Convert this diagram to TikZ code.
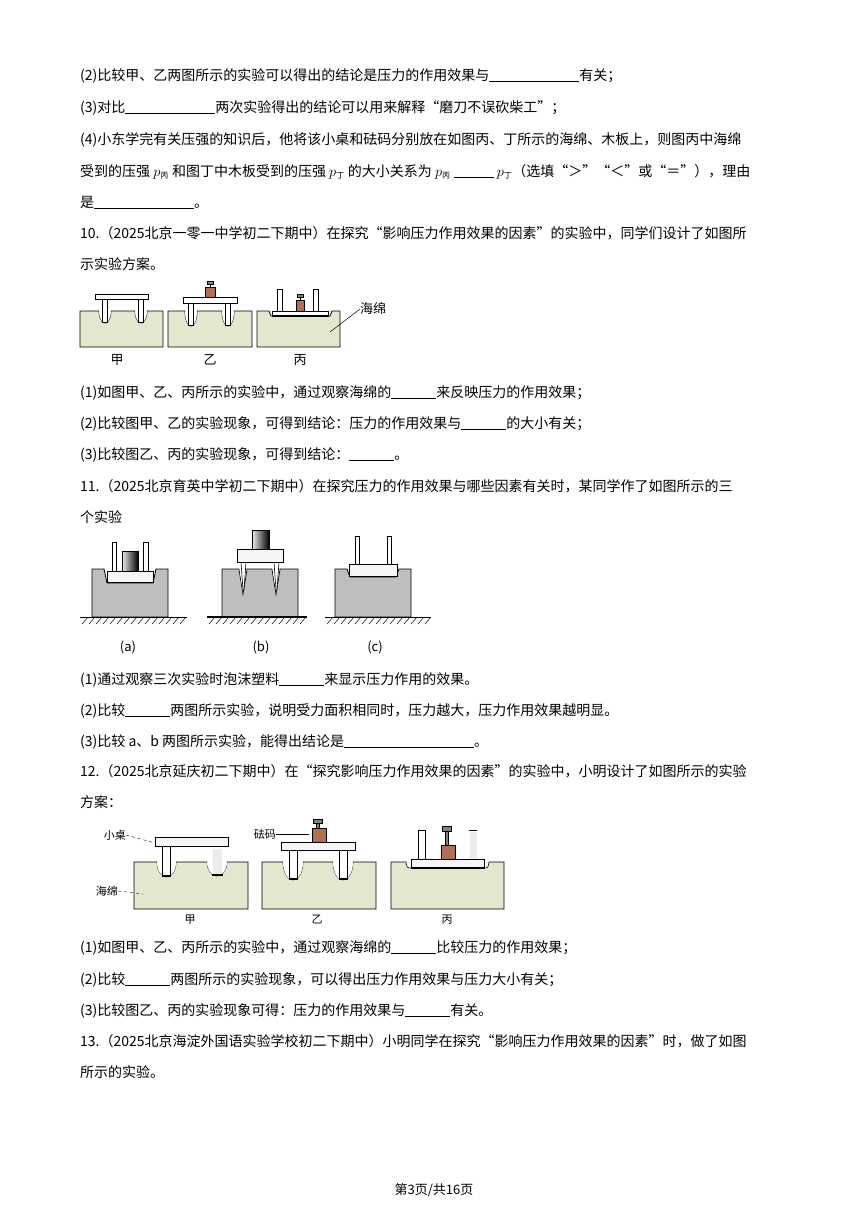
\documentclass[tikz,border=0pt]{standalone}
\usepackage{fontspec}
\setmainfont{Noto Sans CJK SC}
\usetikzlibrary{positioning}
\definecolor{spongegreen}{HTML}{E3E7CD}
\definecolor{spongegray}{HTML}{BEBEBE}
\definecolor{weightbrown}{HTML}{B06E55}
\newcommand\blank[1]{\rule[-2pt]{#1pt}{0.6pt}}
\newcommand\psub[1]{$p_{\mbox{\fontsize{8}{8}\selectfont #1}}$}
\tikzset{
  line/.style={anchor=base west, inner sep=0pt, font=\fontsize{14}{14}\selectfont},
  figlabel/.style={inner sep=0pt, font=\fontsize{13}{13}\selectfont},
  sponge/.style={draw=black, line width=0.8pt},
  plate/.style={draw=black, fill=white, line width=0.6pt},
}
\begin{document}
\begin{tikzpicture}[x=1pt, y=-1pt]
\useasboundingbox (0,0) rectangle (868,1227);

% text of question 9
\node[line] (t1) at (80,80) {(2)比较甲、乙两图所示的实验可以得出的结论是压力的作用效果与\blank{90}有关；};
\node[line] (t2) at (80,112) {(3)对比\blank{90}两次实验得出的结论可以用来解释“磨刀不误砍柴工”；};
\node[line] (t3) at (80,144) {(4)小东学完有关压强的知识后，他将该小桌和砝码分别放在如图丙、丁所示的海绵、木板上，则图丙中海绵};
\node[line] (t4) at (80,176) {受到的压强 \psub{丙} 和图丁中木板受到的压强 \psub{丁} 的大小关系为 \psub{丙} \blank{40} \psub{丁}（选填“＞”“＜”或“＝”），理由};
\node[line] (t5) at (80,207) {是\blank{100}。};

% question 10
\node[line] (q10a) at (80,238) {10.（2025北京一零一中学初二下期中）在探究“影响压力作用效果的因素”的实验中，同学们设计了如图所};
\node[line] (q10b) at (80,269) {示实验方案。};

% fig 10 甲
\draw[sponge, fill=spongegreen] (80,311) -- (99,311) arc[start angle=180, end angle=0, x radius=6, y radius=12]
  -- (135,311) arc[start angle=180, end angle=0, x radius=6, y radius=12] -- (163,311) -- (163,347) -- (80,347) -- cycle;
\fill[white] (99,311) arc[start angle=180, end angle=0, x radius=6, y radius=12] -- cycle;
\fill[white] (135,311) arc[start angle=180, end angle=0, x radius=6, y radius=12] -- cycle;
\draw[plate] (102,298) rectangle (107,322);
\draw[plate] (138,298) rectangle (143,322);
\draw[plate] (95,294) rectangle (148,299);
\node[figlabel] (l10a) at (117,360) {甲};

% fig 10 乙
\draw[sponge, fill=spongegreen] (168,311) -- (185,311) arc[start angle=180, end angle=0, x radius=6, y radius=15]
  -- (222,311) arc[start angle=180, end angle=0, x radius=6, y radius=15] -- (252,311) -- (252,347) -- (168,347) -- cycle;
\fill[white] (185,311) arc[start angle=180, end angle=0, x radius=6, y radius=15] -- cycle;
\fill[white] (222,311) arc[start angle=180, end angle=0, x radius=6, y radius=15] -- cycle;
\draw[plate] (188,303) rectangle (193,325);
\draw[plate] (225,303) rectangle (230,325);
\draw[plate] (183,297) rectangle (237,303);
\draw[fill=weightbrown, line width=0.5pt] (205,287) rectangle (215,297);
\draw[fill=gray, line width=0.5pt] (207,281) rectangle (213,284);
\draw[line width=0.5pt] (210,284) -- (210,287);
\node[figlabel] (l10b) at (210,360) {乙};

% fig 10 丙
\draw[sponge, fill=spongegreen] (257,311) -- (269,311) -- (271,316) -- (330,316) -- (332,311) -- (340,311) -- (340,347) -- (257,347) -- cycle;
\draw[plate] (277,289) rectangle (282,311);
\draw[plate] (313,289) rectangle (318,311);
\draw[plate] (272,311) rectangle (328,316);
\draw[line width=1.2pt] (272,316) -- (328,316);
\draw[fill=weightbrown, line width=0.5pt] (296,300) rectangle (304,311);
\draw[fill=gray, line width=0.5pt] (297,294) rectangle (303,297);
\draw[line width=0.5pt] (300,297) -- (300,300);
\node[figlabel] (l10c) at (300,360) {丙};
\node[figlabel, anchor=west] (hm10) at (360,309) {海绵};
\coordinate (hm10p) at (330,332);
\draw[line width=0.5pt] (hm10.west) -- (hm10p);

\node[line] (q10c) at (80,397) {(1)如图甲、乙、丙所示的实验中，通过观察海绵的\blank{45}来反映压力的作用效果；};
\node[line] (q10d) at (80,428) {(2)比较图甲、乙的实验现象，可得到结论：压力的作用效果与\blank{45}的大小有关；};
\node[line] (q10e) at (80,459) {(3)比较图乙、丙的实验现象，可得到结论：\blank{45}。};

% question 11
\node[line] (q11a) at (80,491) {11.（2025北京育英中学初二下期中）在探究压力的作用效果与哪些因素有关时，某同学作了如图所示的三};
\node[line] (q11b) at (80,522) {个实验};

% fig 11 (a)
\draw[sponge, fill=spongegray] (92,569) -- (104,569) -- (107,583) -- (153,583) -- (156,569) -- (168,569) -- (168,617) -- (92,617) -- cycle;
\draw[plate] (112,542) rectangle (116,571);
\draw[plate] (143,542) rectangle (148,571);
\draw[left color=gray!15, right color=black, line width=0.5pt] (122,551) rectangle (138,571);
\draw[plate, fill=gray!8] (107,571) rectangle (153,582);
\draw[line width=0.8pt] (80,617) -- (187,617);
\foreach \i in {82,89,...,182} \draw[line width=0.5pt] (\i+6,617) -- (\i,624);
\node[figlabel] (la) at (128,647) {(a)};

% fig 11 (b)
\draw[sponge, fill=spongegray] (222,569) -- (239,569) -- (243,594) -- (247,569) -- (272,569) -- (276,594) -- (280,569) -- (298,569) -- (298,617) -- (222,617) -- cycle;
\draw[fill=white, draw=none] (239.5,569.5) -- (243,592) -- (246.5,569.5) -- cycle;
\draw[fill=white, draw=none] (272.5,569.5) -- (276,592) -- (279.5,569.5) -- cycle;
\draw[plate] (241,562) -- (246,562) -- (244,590) -- (243,590) -- cycle;
\draw[plate] (274,562) -- (279,562) -- (277,590) -- (276,590) -- cycle;
\draw[plate, fill=gray!8] (237,549) rectangle (283,562);
\draw[left color=gray!15, right color=black, line width=0.5pt] (252,530) rectangle (269,549);
\draw[line width=1.4pt] (207,617) -- (307,617);
\foreach \i in {209,216,...,302} \draw[line width=0.5pt] (\i+6,617) -- (\i,624);
\node[figlabel] (lb) at (261,647) {(b)};

% fig 11 (c)
\draw[sponge, fill=spongegray] (335,569) -- (347,569) -- (350,577) -- (396,577) -- (399,569) -- (411,569) -- (411,617) -- (335,617) -- cycle;
\draw[plate] (355,536) rectangle (359,564);
\draw[plate] (387,536) rectangle (391,564);
\draw[plate, fill=gray!8] (349,564) rectangle (397,576);
\draw[line width=0.8pt] (325,617) -- (430,617);
\foreach \i in {327,334,...,425} \draw[line width=0.5pt] (\i+6,617) -- (\i,624);
\node[figlabel] (lc) at (375,647) {(c)};

\node[line] (q11c) at (80,684) {(1)通过观察三次实验时泡沫塑料\blank{45}来显示压力作用的效果。};
\node[line] (q11d) at (80,715) {(2)比较\blank{45}两图所示实验，说明受力面积相同时，压力越大，压力作用效果越明显。};
\node[line] (q11e) at (80,746) {(3)比较 a、b 两图所示实验，能得出结论是\blank{130}。};

% question 12
\node[line] (q12a) at (80,776) {12.（2025北京延庆初二下期中）在“探究影响压力作用效果的因素”的实验中，小明设计了如图所示的实验};
\node[line] (q12b) at (80,807) {方案：};

% fig 12 甲
\draw[sponge, fill=spongegreen, line width=0.6pt] (134,862) -- (157,862) arc[start angle=180, end angle=0, x radius=9.5, y radius=15]
  -- (207,862) arc[start angle=180, end angle=0, x radius=10, y radius=14] -- (248,862) -- (248,909) -- (134,909) -- cycle;
\fill[white] (157,862) arc[start angle=180, end angle=0, x radius=9.5, y radius=15] -- cycle;
\fill[white] (207,862) arc[start angle=180, end angle=0, x radius=10, y radius=14] -- cycle;
\draw[plate, line width=0.4pt] (162,846) rectangle (170,876);
\draw[line width=1.2pt] (162,876) -- (170,876);
\fill[gray!15] (213,849) rectangle (222,874);
\draw[line width=1.2pt] (212,875) -- (223,875);
\draw[plate, fill=gray!8] (155,837) rectangle (228,846);
\node[figlabel, font=\fontsize{11}{11}\selectfont] (l12a) at (190,920) {甲};
\node[figlabel, font=\fontsize{11}{11}\selectfont, anchor=east] (xz) at (126,835) {小桌};
\draw[dashed, line width=0.4pt] (xz.east) -- (155,843);
\node[figlabel, font=\fontsize{11}{11}\selectfont, anchor=east] (hm12) at (118,891) {海绵};
\draw[dashed, line width=0.4pt] (hm12.east) -- (143,894);

% fig 12 乙
\draw[sponge, fill=spongegreen, line width=0.6pt] (262,862) -- (283,862) arc[start angle=180, end angle=0, x radius=10, y radius=18]
  -- (333,862) arc[start angle=180, end angle=0, x radius=10, y radius=18] -- (376,862) -- (376,909) -- (262,909) -- cycle;
\fill[white] (283,862) arc[start angle=180, end angle=0, x radius=10, y radius=18] -- cycle;
\fill[white] (333,862) arc[start angle=180, end angle=0, x radius=10, y radius=18] -- cycle;
\draw[plate, line width=0.4pt] (289,850) rectangle (297,879);
\draw[line width=1.2pt] (289,879) -- (297,879);
\draw[plate, line width=0.4pt] (339,850) rectangle (347,879);
\draw[line width=1.2pt] (339,879) -- (347,879);
\draw[plate, fill=gray!8] (281,842) rectangle (355,850);
\draw[fill=weightbrown, line width=0.4pt] (312,828) rectangle (326,842);
\draw[fill=gray, line width=0.4pt] (313,819) rectangle (322,823);
\draw[fill=gray, line width=0.4pt] (316,823) rectangle (319,828);
\node[figlabel, font=\fontsize{11}{11}\selectfont] (l12b) at (317,920) {乙};
\node[figlabel, font=\fontsize{11}{11}\selectfont, anchor=east] (fm) at (276,834) {砝码};
\draw[line width=0.4pt] (fm.east) -- (309,834);

% fig 12 丙
\draw[sponge, fill=spongegreen, line width=0.6pt] (391,862) -- (406,862) .. controls (407,868) .. (412,868)
  -- (483,868) .. controls (488,868) .. (489,862) -- (504,862) -- (504,909) -- (391,909) -- cycle;
\draw[plate, line width=0.4pt] (418,830) rectangle (425,859);
\fill[gray!15] (470,832) rectangle (477,859);
\draw[line width=0.4pt] (469,830) -- (477,830);
\draw[plate, fill=gray!8] (411,859) rectangle (484,868);
\draw[line width=1.2pt] (411,868) -- (484,868);
\draw[fill=weightbrown, line width=0.4pt] (441,845) rectangle (455,859);
\draw[fill=gray, line width=0.4pt] (442,826) rectangle (451,831);
\draw[fill=gray, line width=0.4pt] (445,831) rectangle (448,845);
\node[figlabel, font=\fontsize{11}{11}\selectfont] (l12c) at (447,920) {丙};

\node[line] (q12c) at (80,952) {(1)如图甲、乙、丙所示的实验中，通过观察海绵的\blank{45}比较压力的作用效果；};
\node[line] (q12d) at (80,984) {(2)比较\blank{45}两图所示的实验现象，可以得出压力作用效果与压力大小有关；};
\node[line] (q12e) at (80,1015) {(3)比较图乙、丙的实验现象可得：压力的作用效果与\blank{45}有关。};

% question 13
\node[line] (q13a) at (80,1046) {13.（2025北京海淀外国语实验学校初二下期中）小明同学在探究“影响压力作用效果的因素”时，做了如图};
\node[line] (q13b) at (80,1077) {所示的实验。};

\node[figlabel] (foot) at (434,1190) {第3页/共16页};
\end{tikzpicture}
\end{document}
